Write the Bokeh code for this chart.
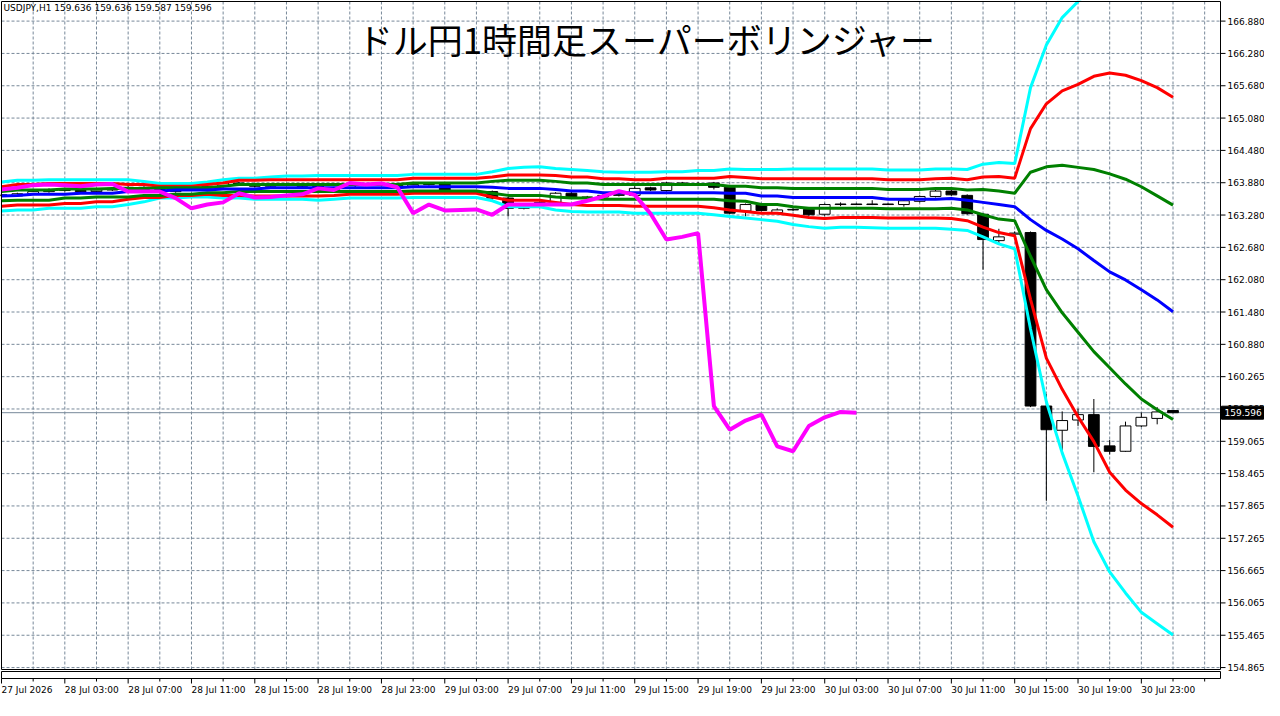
from bokeh.plotting import figure
from bokeh.models import Range1d, ColumnDataSource
from bokeh.core.properties import value
from bokeh.embed import file_html
from bokeh.resources import INLINE

# ---------------- data ----------------
symbol = "USDJPY,H1"
last_ohlc = [159.636, 159.636, 159.587, 159.596]
title_text = "ドル円1時間足スーパーボリンジャー"
chikou_shift = 20

opens = [163.64, 163.62, 163.66, 163.70, 163.74, 163.72, 163.70, 163.73, 163.76, 163.78,
         163.74, 163.70, 163.74, 163.78, 163.80, 163.86, 163.84, 163.80, 163.82, 163.84,
         163.80, 163.74, 163.77, 163.82, 163.83, 163.82, 163.80, 163.83, 163.84, 163.71,
         163.70, 163.70, 163.58, 163.39, 163.46, 163.50, 163.67, 163.59, 163.60, 163.63,
         163.63, 163.77, 163.72, 163.86, 163.83, 163.86, 163.78, 163.34, 163.45, 163.31,
         163.36, 163.37, 163.28, 163.47, 163.47, 163.47, 163.47, 163.46, 163.52, 163.61,
         163.71, 163.63, 163.28, 162.79, 162.91, 162.94, 159.72, 159.27, 159.46, 159.56,
         158.98, 158.88, 159.35, 159.49, 159.636]
highs = [163.66, 163.68, 163.72, 163.76, 163.76, 163.74, 163.75, 163.78, 163.80, 163.80,
         163.76, 163.76, 163.80, 163.82, 163.88, 163.88, 163.86, 163.84, 163.86, 163.86,
         163.82, 163.79, 163.84, 163.85, 163.85, 163.84, 163.85, 163.87, 163.86, 163.73,
         163.72, 163.72, 163.60, 163.48, 163.52, 163.69, 163.69, 163.62, 163.65, 163.67,
         163.80, 163.79, 163.88, 163.88, 163.88, 163.88, 163.80, 163.48, 163.47, 163.39,
         163.39, 163.39, 163.48, 163.50, 163.48, 163.54, 163.48, 163.55, 163.63, 163.73,
         163.73, 163.65, 163.30, 163.01, 162.96, 162.96, 159.94, 159.62, 159.67, 159.85,
         159.09, 159.43, 159.60, 159.70, 159.636]
lows = [163.60, 163.60, 163.64, 163.68, 163.70, 163.68, 163.68, 163.71, 163.74, 163.72,
        163.68, 163.68, 163.72, 163.76, 163.78, 163.82, 163.78, 163.78, 163.80, 163.78,
        163.72, 163.72, 163.75, 163.80, 163.80, 163.78, 163.78, 163.81, 163.68, 163.68,
        163.67, 163.55, 163.24, 163.37, 163.44, 163.48, 163.57, 163.57, 163.58, 163.61,
        163.61, 163.71, 163.70, 163.81, 163.82, 163.74, 163.28, 163.24, 163.33, 163.29,
        163.34, 163.25, 163.24, 163.43, 163.45, 163.45, 163.45, 163.42, 163.50, 163.59,
        163.62, 163.27, 162.25, 162.73, 162.89, 159.70, 157.96, 158.88, 159.35, 158.49,
        158.82, 158.87, 159.33, 159.38, 159.587]
closes = [163.62, 163.66, 163.70, 163.74, 163.72, 163.70, 163.73, 163.76, 163.78, 163.74,
          163.70, 163.74, 163.78, 163.80, 163.86, 163.84, 163.80, 163.82, 163.84, 163.80,
          163.74, 163.77, 163.82, 163.83, 163.82, 163.80, 163.83, 163.84, 163.70, 163.70,
          163.70, 163.58, 163.39, 163.46, 163.50, 163.67, 163.59, 163.60, 163.63, 163.65,
          163.76, 163.73, 163.86, 163.83, 163.85, 163.78, 163.30, 163.46, 163.35, 163.36,
          163.37, 163.27, 163.46, 163.46, 163.46, 163.46, 163.46, 163.53, 163.61, 163.71,
          163.64, 163.29, 162.81, 162.86, 162.93, 159.72, 159.28, 159.45, 159.56, 158.97,
          158.88, 159.35, 159.51, 159.61, 159.596]

band_upper3 = [163.88, 163.91, 163.91, 163.92, 163.92, 163.92, 163.92, 163.92, 163.92, 163.89,
               163.85, 163.85, 163.85, 163.88, 163.92, 163.95, 163.95, 163.97, 163.99, 163.99,
               164.00, 164.00, 164.00, 164.00, 164.00, 164.00, 164.02, 164.02, 164.02, 164.02,
               164.02, 164.07, 164.13, 164.15, 164.16, 164.13, 164.11, 164.09, 164.07, 164.06,
               164.06, 164.06, 164.07, 164.07, 164.09, 164.09, 164.12, 164.11, 164.11, 164.11,
               164.12, 164.12, 164.12, 164.12, 164.12, 164.12, 164.10, 164.10, 164.10, 164.12,
               164.12, 164.11, 164.21, 164.24, 164.22, 165.63, 166.42, 166.93, 167.23, 167.50,
               167.70, 167.80, 167.85, 167.82, 167.75]
band_upper2 = [163.79, 163.83, 163.83, 163.85, 163.85, 163.85, 163.85, 163.85, 163.83, 163.83,
               163.80, 163.80, 163.80, 163.83, 163.86, 163.91, 163.91, 163.92, 163.92, 163.92,
               163.92, 163.92, 163.92, 163.92, 163.92, 163.92, 163.95, 163.95, 163.95, 163.95,
               163.95, 163.97, 164.01, 164.01, 164.01, 164.00, 163.97, 163.97, 163.94, 163.94,
               163.92, 163.92, 163.95, 163.95, 163.95, 163.95, 163.98, 163.96, 163.94, 163.94,
               163.94, 163.94, 163.94, 163.94, 163.94, 163.94, 163.92, 163.92, 163.92, 163.94,
               163.95, 163.92, 163.97, 163.98, 163.95, 164.87, 165.33, 165.57, 165.69, 165.84,
               165.90, 165.86, 165.76, 165.63, 165.45]
band_upper1 = [163.70, 163.73, 163.73, 163.73, 163.75, 163.75, 163.75, 163.76, 163.76, 163.76,
               163.77, 163.77, 163.77, 163.77, 163.80, 163.83, 163.83, 163.83, 163.83, 163.83,
               163.83, 163.83, 163.83, 163.83, 163.83, 163.83, 163.86, 163.86, 163.86, 163.86,
               163.86, 163.89, 163.91, 163.91, 163.91, 163.89, 163.86, 163.86, 163.83, 163.83,
               163.83, 163.83, 163.83, 163.83, 163.83, 163.83, 163.80, 163.80, 163.77, 163.77,
               163.76, 163.76, 163.76, 163.76, 163.76, 163.76, 163.74, 163.74, 163.74, 163.76,
               163.76, 163.73, 163.74, 163.71, 163.67, 164.06, 164.16, 164.19, 164.15, 164.11,
               164.03, 163.93, 163.79, 163.62, 163.45]
band_mid = [163.62, 163.63, 163.65, 163.65, 163.65, 163.67, 163.67, 163.67, 163.70, 163.70,
            163.71, 163.73, 163.73, 163.73, 163.75, 163.75, 163.75, 163.77, 163.77, 163.77,
            163.77, 163.77, 163.77, 163.77, 163.77, 163.77, 163.79, 163.79, 163.79, 163.79,
            163.79, 163.78, 163.76, 163.76, 163.76, 163.74, 163.71, 163.71, 163.68, 163.68,
            163.68, 163.68, 163.68, 163.68, 163.68, 163.68, 163.67, 163.67, 163.62, 163.62,
            163.59, 163.59, 163.59, 163.59, 163.59, 163.59, 163.56, 163.56, 163.56, 163.56,
            163.57, 163.54, 163.50, 163.46, 163.42, 163.18, 162.98, 162.82, 162.64, 162.42,
            162.21, 162.06, 161.88, 161.69, 161.47]
band_lower1 = [163.53, 163.54, 163.54, 163.54, 163.58, 163.58, 163.60, 163.60, 163.60, 163.63,
               163.63, 163.65, 163.65, 163.68, 163.68, 163.70, 163.70, 163.70, 163.70, 163.70,
               163.70, 163.70, 163.70, 163.70, 163.70, 163.70, 163.71, 163.71, 163.71, 163.71,
               163.71, 163.67, 163.63, 163.63, 163.63, 163.60, 163.58, 163.58, 163.56, 163.56,
               163.56, 163.56, 163.56, 163.56, 163.56, 163.56, 163.53, 163.52, 163.46, 163.46,
               163.42, 163.39, 163.39, 163.39, 163.39, 163.39, 163.38, 163.38, 163.38, 163.38,
               163.39, 163.36, 163.27, 163.19, 163.16, 162.50, 161.88, 161.45, 161.09, 160.73,
               160.43, 160.13, 159.85, 159.65, 159.47]
band_lower2 = [163.43, 163.45, 163.45, 163.45, 163.48, 163.48, 163.51, 163.51, 163.56, 163.59,
               163.59, 163.63, 163.63, 163.65, 163.63, 163.63, 163.62, 163.62, 163.62, 163.62,
               163.62, 163.63, 163.65, 163.65, 163.65, 163.65, 163.67, 163.67, 163.67, 163.67,
               163.67, 163.60, 163.54, 163.54, 163.54, 163.50, 163.46, 163.44, 163.44, 163.44,
               163.43, 163.43, 163.43, 163.43, 163.43, 163.40, 163.36, 163.33, 163.30, 163.30,
               163.26, 163.22, 163.20, 163.22, 163.22, 163.22, 163.21, 163.21, 163.21, 163.21,
               163.20, 163.16, 163.04, 162.94, 162.88, 161.70, 160.61, 160.03, 159.52, 159.06,
               158.49, 158.16, 157.91, 157.70, 157.47]
band_lower3 = [163.34, 163.36, 163.36, 163.39, 163.39, 163.39, 163.42, 163.42, 163.46, 163.51,
               163.58, 163.58, 163.60, 163.60, 163.58, 163.58, 163.56, 163.56, 163.56, 163.56,
               163.54, 163.56, 163.58, 163.58, 163.58, 163.58, 163.59, 163.59, 163.59, 163.59,
               163.59, 163.53, 163.42, 163.42, 163.42, 163.36, 163.33, 163.32, 163.32, 163.32,
               163.30, 163.30, 163.30, 163.30, 163.30, 163.27, 163.24, 163.21, 163.18, 163.15,
               163.09, 163.05, 163.02, 163.04, 163.04, 163.03, 163.02, 163.02, 163.02, 163.02,
               163.00, 162.98, 162.86, 162.73, 162.64, 161.15, 159.80, 158.85, 158.05, 157.20,
               156.64, 156.25, 155.89, 155.68, 155.47]

x_tick_bars = [0, 4, 8, 12, 16, 20, 24, 28, 32, 36, 40, 44, 48, 52, 56, 60, 64, 68, 72]
x_tick_labels = ["27 Jul 2026", "28 Jul 03:00", "28 Jul 07:00", "28 Jul 11:00", "28 Jul 15:00",
                 "28 Jul 19:00", "28 Jul 23:00", "29 Jul 03:00", "29 Jul 07:00", "29 Jul 11:00",
                 "29 Jul 15:00", "29 Jul 19:00", "29 Jul 23:00", "30 Jul 03:00", "30 Jul 07:00",
                 "30 Jul 11:00", "30 Jul 15:00", "30 Jul 19:00", "30 Jul 23:00"]
x_minor_bars = [2, 6, 10, 14, 18, 22, 26, 30, 34, 38, 42, 46, 50, 54, 58, 62, 66, 70, 74, 76]
x_grid_bars = list(range(2, 77, 2))

y_tick_values = [154.865, 155.465, 156.065, 156.665, 157.265, 157.865, 158.465, 159.065, 159.665,
                 160.265, 160.865, 161.465, 162.065, 162.665, 163.265, 163.865, 164.465, 165.065,
                 165.665, 166.265, 166.865]
y_tick_labels = ["154.865", "155.465", "156.065", "156.665", "157.265", "157.865", "158.465",
                 "159.065", "159.665", "160.265", "160.880", "161.480", "162.080", "162.680",
                 "163.280", "163.880", "164.480", "165.080", "165.680", "166.280", "166.880"]

# ---------------- layout constants (pixels) ----------------
W, H = 1264, 700
CH_L, CH_R, CH_T, CH_B = 1, 1220, 1, 669          # chart area inside the canvas
PRICE_TOP, PRICE_BOT = 167.229, 154.829           # prices at chart top / bottom edge
BAR_L, BAR_R = 0, 77                              # bars at chart left / right edge
ppb = (CH_R - CH_L) / (BAR_R - BAR_L)
ppp = (CH_B - CH_T) / (PRICE_TOP - PRICE_BOT)


def dx(px):
    return px / ppb


def dy(px):
    return px / ppp


GRID = "#778899"
AXFONT = "DejaVu Sans"
FS = "9px"

p = figure(frame_width=W, frame_height=H,
           x_range=Range1d(BAR_L - dx(CH_L), BAR_R + dx(W - CH_R)),
           y_range=Range1d(PRICE_BOT - dy(H - CH_B), PRICE_TOP + dy(CH_T)),
           output_backend="svg", toolbar_location=None,
           x_axis_location=None, y_axis_location=None, min_border=0)
p.grid.visible = False
p.outline_line_color = None
p.background_fill_color = "white"
p.border_fill_color = "white"

# dashed grid, limited to the chart area
p.segment(x0=[BAR_L] * len(y_tick_values), x1=[BAR_R] * len(y_tick_values),
          y0=y_tick_values, y1=y_tick_values, line_color=GRID, line_dash="3 2", line_width=1)
p.segment(x0=x_grid_bars, x1=x_grid_bars, y0=[PRICE_BOT] * len(x_grid_bars),
          y1=[PRICE_TOP] * len(x_grid_bars), line_color=GRID, line_dash="3 2", line_width=1)

# current price line
p.segment(x0=[BAR_L], x1=[BAR_R], y0=[last_ohlc[3]], y1=[last_ohlc[3]],
          line_color="#778899", line_width=1)

# candles
bars = list(range(len(closes)))
src = ColumnDataSource(dict(
    x=bars, high=highs, low=lows,
    top=[max(o, c) for o, c in zip(opens, closes)],
    bottom=[min(o, c) for o, c in zip(opens, closes)],
    fill=["black" if c < o else "white" for o, c in zip(opens, closes)],
))
p.segment(x0="x", y0="low", x1="x", y1="high", source=src, line_color="black", line_width=1)
p.vbar(x="x", width=0.68, top="top", bottom="bottom", source=src,
       fill_color="fill", line_color="black", line_width=1)

# super bollinger bands
p.line(bars, band_upper3, line_color="#00FFFF", line_width=3)
p.line(bars, band_lower3, line_color="#00FFFF", line_width=3)
p.line(bars, band_upper2, line_color="#FF0000", line_width=3)
p.line(bars, band_lower2, line_color="#FF0000", line_width=3)
p.line(bars, band_upper1, line_color="#008000", line_width=3)
p.line(bars, band_lower1, line_color="#008000", line_width=3)
p.line(bars, band_mid, line_color="#0000FF", line_width=3)
# lagging line: close shifted back
p.line(bars[:len(bars) - chikou_shift], closes[chikou_shift:], line_color="#FF00FF", line_width=4)

# white margins outside the chart area (hide lines that leave it)
p.quad(left=[BAR_L - dx(CH_L) - 1], right=[BAR_R + dx(W - CH_R) + 1],
       bottom=[PRICE_TOP], top=[PRICE_TOP + dy(CH_T) + 1],
       fill_color="white", line_color=None)
p.quad(left=[BAR_R], right=[BAR_R + dx(W - CH_R) + 1],
       bottom=[PRICE_BOT - dy(H - CH_B) - 1], top=[PRICE_TOP + 1],
       fill_color="white", line_color=None)

# chart border
p.quad(left=[BAR_L], right=[BAR_R], bottom=[PRICE_BOT], top=[PRICE_TOP],
       fill_color=None, line_color="black", line_width=1)

# thin empty sub-window below
sub_top, sub_bot = PRICE_BOT - dy(2), PRICE_BOT - dy(9)
p.quad(left=[BAR_L], right=[BAR_R], bottom=[sub_bot], top=[sub_top],
       fill_color="white", line_color="black", line_width=1)

# price axis ticks and labels
n_y = len(y_tick_values)
p.segment(x0=[BAR_R] * n_y, x1=[BAR_R + dx(5)] * n_y, y0=y_tick_values, y1=y_tick_values,
          line_color="black", line_width=1)
p.text(x=[BAR_R + dx(7)] * n_y, y=y_tick_values, text=y_tick_labels,
       text_font=value(AXFONT), text_font_size=value(FS), text_color="black",
       text_align="left", text_baseline="middle")

# time axis ticks and labels
p.segment(x0=x_tick_bars, x1=x_tick_bars, y0=[sub_bot] * len(x_tick_bars),
          y1=[sub_bot - dy(5)] * len(x_tick_bars), line_color="black", line_width=1)
p.segment(x0=x_minor_bars, x1=x_minor_bars, y0=[sub_bot] * len(x_minor_bars),
          y1=[sub_bot - dy(3)] * len(x_minor_bars), line_color="black", line_width=1)
p.text(x=x_tick_bars, y=[sub_bot - dy(6)] * len(x_tick_bars), text=x_tick_labels,
       text_font=value(AXFONT), text_font_size=value(FS), text_color="black",
       text_align="left", text_baseline="top")

# current price marker on the axis
p.quad(left=[BAR_R + dx(1)], right=[BAR_R + dx(43)],
       bottom=[last_ohlc[3] - dy(6.5)], top=[last_ohlc[3] + dy(6.5)],
       fill_color="black", line_color="black")
p.text(x=[BAR_R + dx(4)], y=[last_ohlc[3]], text=[f"{last_ohlc[3]:.3f}"],
       text_font=value(AXFONT), text_font_size=value(FS), text_color="white",
       text_align="left", text_baseline="middle")

# title and header
p.text(x=[40.8], y=[166.54], text=[title_text], text_font=value("Noto Sans CJK JP"),
       text_font_size=value("35px"), text_color="black", text_align="center",
       text_baseline="middle")
header = symbol + "  " + " ".join(f"{v:.3f}" for v in last_ohlc)
p.text(x=[BAR_L + dx(2)], y=[PRICE_TOP - dy(1)], text=[header], text_font=value(AXFONT),
       text_font_size=value(FS), text_color="black", text_align="left", text_baseline="top")

open("out.html", "w").write(file_html(p, INLINE))
